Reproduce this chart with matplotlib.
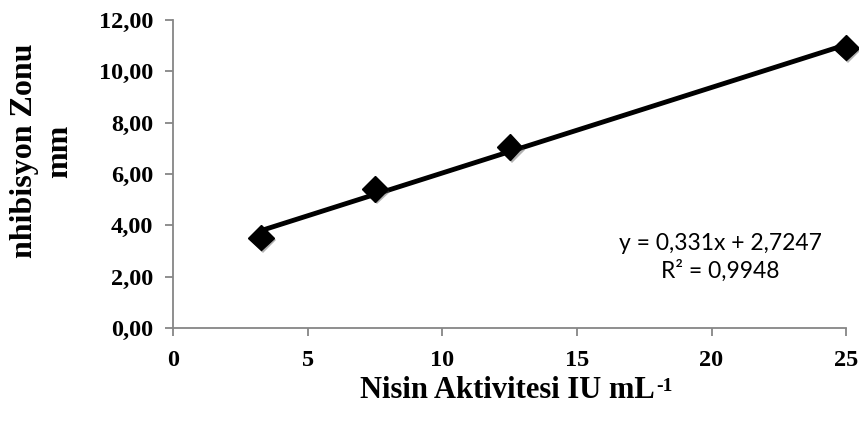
import numpy as np
import matplotlib
matplotlib.use('Agg')
import matplotlib.pyplot as plt
import matplotlib.patheffects as pe

# Data
nisin = [3.25, 7.5, 12.5, 25]
zone = [3.52, 5.42, 7.05, 10.92]
y_ticks = [0, 2, 4, 6, 8, 10, 12]
x_ticks = [0, 5, 10, 15, 20, 25]
eq_text = 'y = 0,331x + 2,7247\nR² = 0,9948'

serif = 'Liberation Serif'
axis_col = '#868686'

fig = plt.figure(figsize=(8.59, 4.25), dpi=100)
ax = fig.add_axes([0.2018, 0.2282, 0.7832, 0.7248])

# linear trend line over the data range
coef = np.polyfit(nisin, zone, 1)
xs = np.array([min(nisin), max(nisin)])
ax.plot(xs, np.polyval(coef, xs), color='black', lw=3.5, zorder=2,
        solid_capstyle='butt')

# diamond markers with a soft shadow
ax.plot(nisin, zone, linestyle='none', marker='D', markersize=13,
        color='black', zorder=3, clip_on=False,
        path_effects=[pe.SimplePatchShadow(offset=(1.5, -2), shadow_rgbFace='#555555', alpha=0.45),
                      pe.Normal()])

ax.set_xlim(0, 25)
ax.set_ylim(0, 12)
ax.set_xticks(x_ticks)
ax.set_yticks(y_ticks)
ax.set_xticklabels([str(v) for v in x_ticks], fontfamily=serif, fontweight='bold', fontsize=17.5)
ax.set_yticklabels([f'{v:.2f}'.replace('.', ',') for v in y_ticks],
                   fontfamily=serif, fontweight='bold', fontsize=17.5)

for s in ['top', 'right']:
    ax.spines[s].set_visible(False)
for s in ['left', 'bottom']:
    ax.spines[s].set_color(axis_col)
    ax.spines[s].set_linewidth(1.3)
ax.tick_params(axis='both', direction='out', length=5.5, width=1.3, color=axis_col)
ax.tick_params(axis='x', pad=10)
ax.tick_params(axis='y', pad=9)

ax.set_xlabel('Nisin Aktivitesi IU mL', fontfamily=serif, fontweight='bold', fontsize=22)
ax.xaxis.set_label_coords(0.497, -0.155)
ax.annotate('-1', xy=(1, 1), xycoords=ax.xaxis.label, xytext=(0.5, -1.5),
            textcoords='offset points', ha='left', va='top',
            fontfamily=serif, fontweight='bold', fontsize=14)

ax.set_ylabel('nhibisyon Zonu\nmm', fontfamily=serif, fontweight='bold',
              fontsize=23, linespacing=1.25)
ax.yaxis.set_label_coords(-0.148, 0.575)

ax.text(20.32, 2.75, eq_text, fontfamily='Lato', fontsize=16.5,
        ha='center', va='center', linespacing=1.35)

fig.savefig('out.png', dpi=100)
